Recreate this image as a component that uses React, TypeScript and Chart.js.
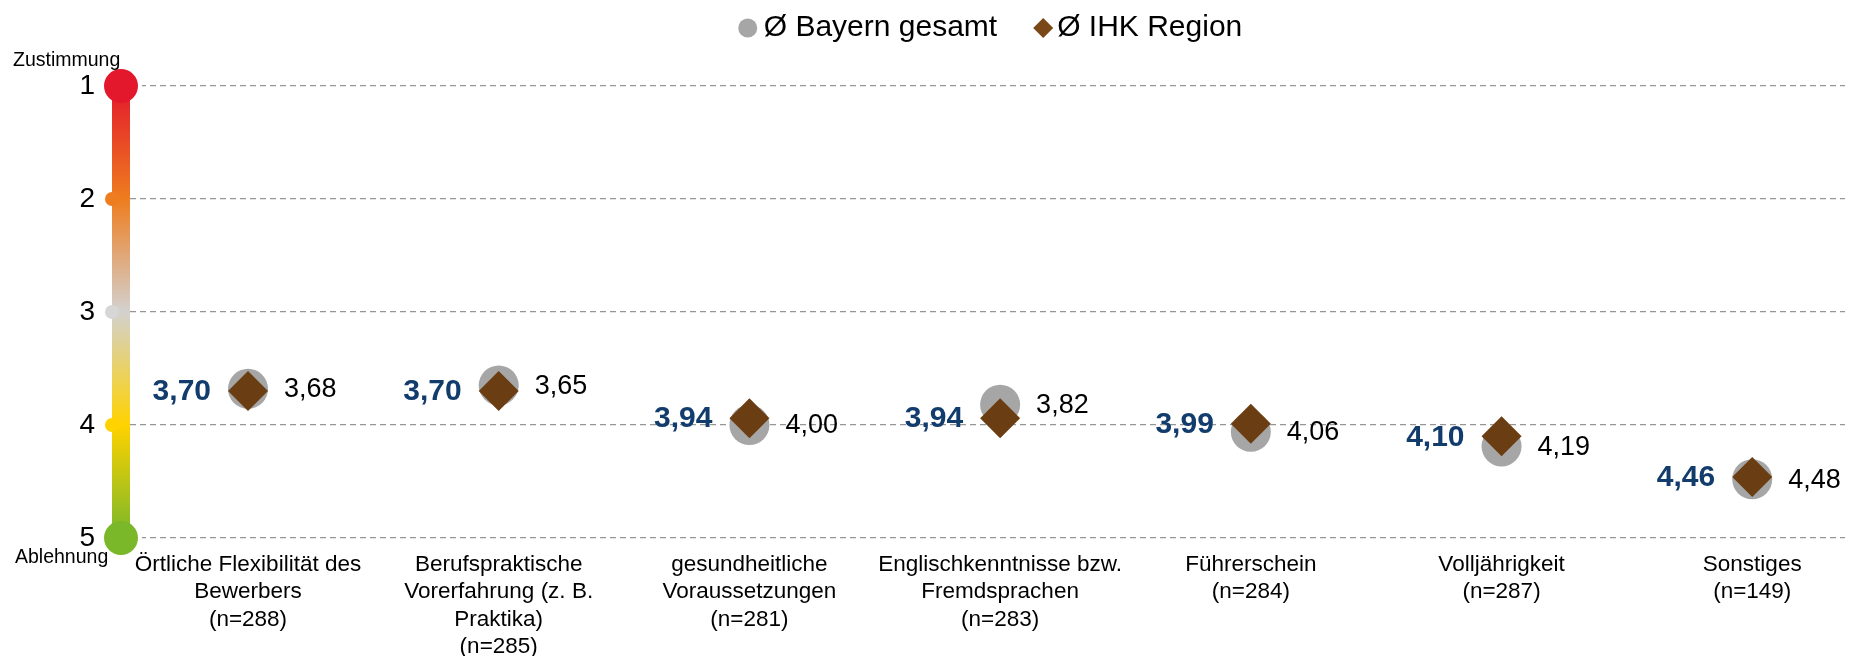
import React, { useEffect, useRef } from 'react';
import { Chart, registerables } from 'chart.js';

Chart.register(...registerables);

const categories: string[][] = [
  ['Örtliche Flexibilität des', 'Bewerbers', '(n=288)'],
  ['Berufspraktische', 'Vorerfahrung (z. B.', 'Praktika)', '(n=285)'],
  ['gesundheitliche', 'Voraussetzungen', '(n=281)'],
  ['Englischkenntnisse bzw.', 'Fremdsprachen', '(n=283)'],
  ['Führerschein', '(n=284)'],
  ['Volljährigkeit', '(n=287)'],
  ['Sonstiges', '(n=149)'],
];
const bayernGesamt = [3.68, 3.65, 4.0, 3.82, 4.06, 4.19, 4.48];
const ihkRegion = [3.7, 3.7, 3.94, 3.94, 3.99, 4.1, 4.46];
const yTicks = [1, 2, 3, 4, 5];
const legendLabels = ['Ø Bayern gesamt', 'Ø IHK Region'];
const scaleEndLabels = ['Zustimmung', 'Ablehnung'];

const FONT = '"Liberation Sans", Arial, Helvetica, sans-serif';
const GREY = '#a6a6a6';
const BROWN = '#6b3d12';
const BLUE = '#123c6c';

const fmt = (v: number) => v.toFixed(2).replace('.', ',');

const scaleBarPlugin = {
  id: 'scaleBar',
  afterDraw(chart: any) {
    const ctx = chart.ctx;
    const y = chart.scales.y;
    const cx = 121;
    const y1 = y.getPixelForValue(1);
    const y5 = y.getPixelForValue(5);
    ctx.save();
    [1, 5].forEach((v) => {
      ctx.beginPath();
      ctx.fillStyle = '#ffffff';
      ctx.arc(cx, y.getPixelForValue(v), 21, 0, Math.PI * 2);
      ctx.fill();
    });
    const grad = ctx.createLinearGradient(0, y1, 0, y5);
    grad.addColorStop(0, '#e3182d');
    grad.addColorStop(0.25, '#ee7d1f');
    grad.addColorStop(0.5, '#d3d1cf');
    grad.addColorStop(0.75, '#ffd200');
    grad.addColorStop(1, '#78b72a');
    ctx.fillStyle = grad;
    ctx.fillRect(cx - 9, y1, 18, y5 - y1);
    const dots: [number, string][] = [
      [2, '#ee7d1f'],
      [3, '#d6d6d6'],
      [4, '#ffd200'],
    ];
    dots.forEach(([v, c]) => {
      ctx.beginPath();
      ctx.fillStyle = c;
      ctx.arc(cx - 9, y.getPixelForValue(v), 7, 0, Math.PI * 2);
      ctx.fill();
    });
    const big: [number, string][] = [
      [1, '#e3182d'],
      [5, '#7ab829'],
    ];
    big.forEach(([v, c]) => {
      ctx.beginPath();
      ctx.fillStyle = c;
      ctx.arc(cx, y.getPixelForValue(v), 17, 0, Math.PI * 2);
      ctx.fill();
    });
    ctx.fillStyle = '#000';
    ctx.font = `19.5px ${FONT}`;
    ctx.textAlign = 'left';
    ctx.textBaseline = 'alphabetic';
    ctx.fillText(scaleEndLabels[0], 13, y1 - 20);
    ctx.fillText(scaleEndLabels[1], 15, y5 + 25);
    ctx.restore();
  },
};

const valueLabelPlugin = {
  id: 'valueLabels',
  afterDatasetsDraw(chart: any) {
    const ctx = chart.ctx;
    const xs = chart.scales.x;
    const ys = chart.scales.y;
    ctx.save();
    ctx.textBaseline = 'middle';
    ihkRegion.forEach((v, i) => {
      ctx.font = `bold 30px ${FONT}`;
      ctx.fillStyle = BLUE;
      ctx.textAlign = 'right';
      ctx.fillText(fmt(v), xs.getPixelForValue(i) - 37, ys.getPixelForValue(v) + 1);
    });
    bayernGesamt.forEach((v, i) => {
      ctx.font = `27px ${FONT}`;
      ctx.fillStyle = '#000';
      ctx.textAlign = 'left';
      ctx.fillText(fmt(v), xs.getPixelForValue(i) + 36, ys.getPixelForValue(v) + 1);
    });
    ctx.restore();
  },
};

const legendPlugin = {
  id: 'customLegend',
  afterDraw(chart: any) {
    const ctx = chart.ctx;
    ctx.save();
    ctx.font = `30px ${FONT}`;
    ctx.textBaseline = 'middle';
    ctx.textAlign = 'left';
    const w0 = ctx.measureText(legendLabels[0]).width;
    const w1 = ctx.measureText(legendLabels[1]).width;
    const total = 10 + 16 + w0 + 36 + 10 + 14 + w1;
    let x = 990 - total / 2;
    const cy = 28;
    ctx.beginPath();
    ctx.fillStyle = GREY;
    ctx.arc(x + 10, cy, 9.5, 0, Math.PI * 2);
    ctx.fill();
    ctx.fillStyle = '#000';
    ctx.fillText(legendLabels[0], x + 26, cy);
    x = x + 26 + w0 + 36;
    ctx.beginPath();
    ctx.fillStyle = '#7a4817';
    ctx.moveTo(x, cy);
    ctx.lineTo(x + 10, cy - 10);
    ctx.lineTo(x + 20, cy);
    ctx.lineTo(x + 10, cy + 10);
    ctx.closePath();
    ctx.fill();
    ctx.fillStyle = '#000';
    ctx.fillText(legendLabels[1], x + 24, cy);
    ctx.restore();
  },
};

export default function App() {
  const ref = useRef<HTMLCanvasElement | null>(null);

  useEffect(() => {
    document.body.style.margin = '0';
    if (!ref.current) return;
    Chart.defaults.font.family = FONT;
    const chart = new Chart(ref.current, {
      type: 'scatter',
      data: {
        datasets: [
          {
            label: legendLabels[0],
            data: bayernGesamt.map((v, i) => ({ x: i, y: v })),
            pointStyle: 'circle',
            pointRadius: 20,
            pointHoverRadius: 20,
            backgroundColor: GREY,
            borderWidth: 0,
            order: 2,
          },
          {
            label: legendLabels[1],
            data: ihkRegion.map((v, i) => ({ x: i, y: v })),
            pointStyle: 'rectRot',
            pointRadius: 20,
            pointHoverRadius: 20,
            backgroundColor: BROWN,
            borderWidth: 0,
            order: 1,
          },
        ],
      },
      options: {
        animation: false,
        responsive: false,
        devicePixelRatio: 1,
        layout: { padding: { top: 86, left: 0, right: 23, bottom: 0 } },
        plugins: {
          legend: { display: false },
          tooltip: { enabled: false },
        },
        scales: {
          x: {
            type: 'linear',
            min: -0.4707,
            max: 6.37,
            afterBuildTicks: (scale: any) => {
              scale.ticks = categories.map((_, i) => ({ value: i }));
            },
            afterFit: (scale: any) => {
              scale.height = 118;
              scale.paddingLeft = 0;
              scale.paddingRight = 0;
            },
            grid: { display: false, drawTicks: false },
            border: { display: false },
            ticks: {
              autoSkip: false,
              maxRotation: 0,
              minRotation: 0,
              padding: 13,
              color: '#000',
              font: { size: 22.5, lineHeight: 1.22 },
              callback: (v: any) => categories[v as number] ?? '',
            },
          },
          y: {
            type: 'linear',
            reverse: true,
            min: 1,
            max: 5,
            afterBuildTicks: (scale: any) => {
              scale.ticks = yTicks.map((v) => ({ value: v }));
            },
            afterFit: (scale: any) => {
              scale.width = 130;
            },
            grid: { color: '#969696', lineWidth: 1.3, drawTicks: false },
            border: { display: false, dash: [6, 4] },
            ticks: {
              padding: 35,
              color: '#000',
              font: { size: 28 },
              callback: (v: any) => String(v),
            },
          },
        },
      },
      plugins: [scaleBarPlugin, valueLabelPlugin, legendPlugin],
    } as any);
    return () => chart.destroy();
  }, []);

  return (
    <div style={{ width: 1868, height: 656, position: 'relative' }}>
      <canvas ref={ref} width={1868} height={656} style={{ display: 'block' }} />
    </div>
  );
}
